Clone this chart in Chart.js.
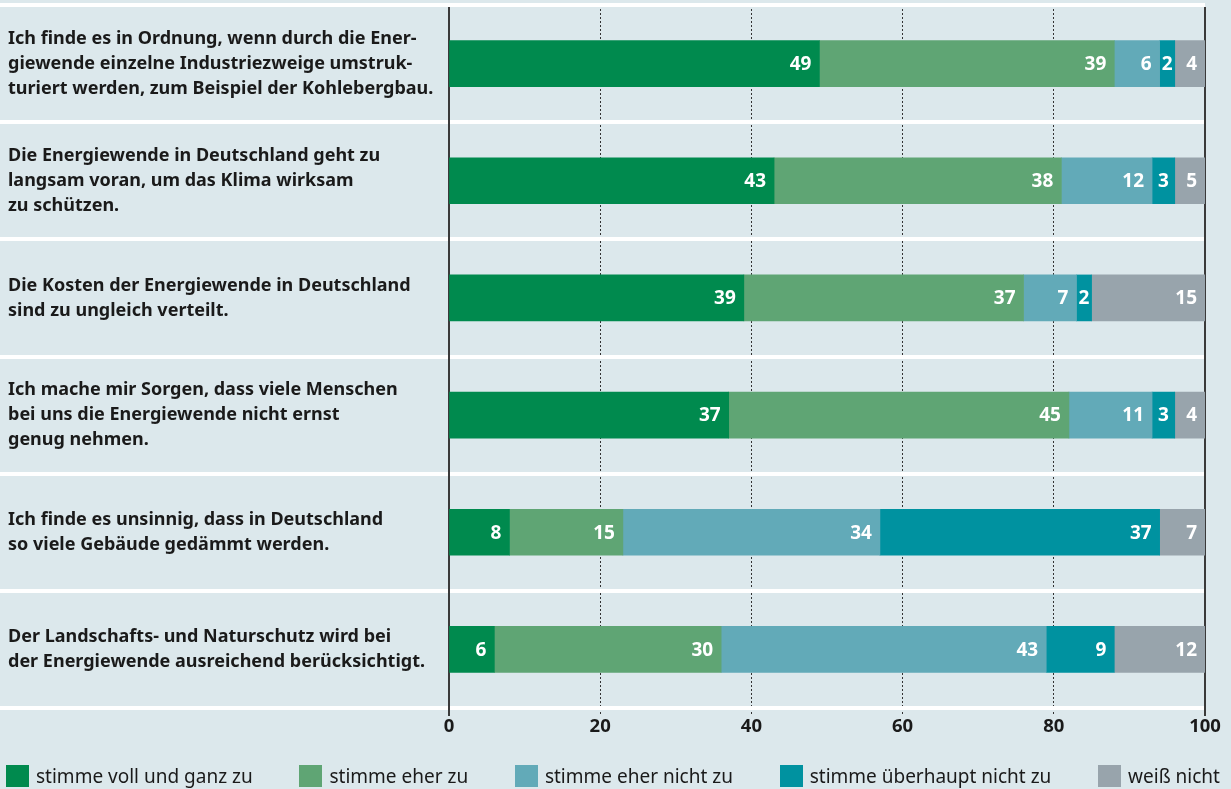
<!DOCTYPE html>
<html lang="de">
<head>
<meta charset="utf-8">
<title>Energiewende – Zustimmung</title>
<script src="https://cdn.jsdelivr.net/npm/chart.js@4"></script>
<style>
  html, body { margin: 0; padding: 0; background: #dce8ec; }
  #wrap { position: relative; width: 1231px; height: 789px; }
  #chart { display: block; }
  #legend {
    position: absolute; left: 0; top: 765px; width: 1231px; box-sizing: border-box;
    margin: 0; padding: 0 11px 0 6px; list-style: none;
    display: flex; justify-content: space-between;
  }
  #legend li {
    display: flex; align-items: center; height: 22px;
    font: 19px 'Noto Sans', sans-serif; color: #1a1a1a; white-space: nowrap;
  }
  #legend .box { display: inline-block; width: 23px; height: 22px; margin-right: 7px; }
</style>
</head>
<body>
<div id="wrap">
  <canvas id="chart" width="1231" height="789"></canvas>
  <ul id="legend"></ul>
</div>
<script>
// Aussagen (Kategorien)
const statements = [
    ["Ich finde es in Ordnung, wenn durch die Ener-", "giewende einzelne Industriezweige umstruk-", "turiert werden, zum Beispiel der Kohlebergbau."],
    ["Die Energiewende in Deutschland geht zu", "langsam voran, um das Klima wirksam", "zu schützen."],
    ["Die Kosten der Energiewende in Deutschland", "sind zu ungleich verteilt."],
    ["Ich mache mir Sorgen, dass viele Menschen", "bei uns die Energiewende nicht ernst", "genug nehmen."],
    ["Ich finde es unsinnig, dass in Deutschland", "so viele Gebäude gedämmt werden."],
    ["Der Landschafts- und Naturschutz wird bei", "der Energiewende ausreichend berücksichtigt."],
];

// Antworten in Prozent
const vollUndGanz = [49, 43, 39, 37, 8, 6];
const eherZu = [39, 38, 37, 45, 15, 30];
const eherNicht = [6, 12, 7, 11, 34, 43];
const ueberhauptNicht = [2, 3, 2, 3, 37, 9];
const weissNicht = [4, 5, 15, 4, 7, 12];

const xTicks = [0, 20, 40, 60, 80, 100];

const FONT = "'Noto Sans', sans-serif";
const TEXT = '#1a1a1a';

const getData = () => {
    return {
        labels: statements,
        datasets: [
            { label: "stimme voll und ganz zu", data: vollUndGanz, backgroundColor: '#008a4e' },
            { label: "stimme eher zu", data: eherZu, backgroundColor: '#5fa574' },
            { label: "stimme eher nicht zu", data: eherNicht, backgroundColor: '#62aab8' },
            { label: "stimme überhaupt nicht zu", data: ueberhauptNicht, backgroundColor: '#0092a0' },
            { label: "weiß nicht", data: weissNicht, backgroundColor: '#98a4ac' },
        ].map(ds => ({ ...ds, borderWidth: 0, barThickness: 46 })),
    };
};

// durchgezogene Linien bei 0 und 100
const edgeLines = {
    id: 'edgeLines',
    beforeDatasetsDraw(chart) {
        const { ctx, chartArea, scales: { x } } = chart;
        ctx.save();
        ctx.strokeStyle = '#3a3a3a';
        ctx.lineWidth = 2;
        [xTicks[0], xTicks[xTicks.length - 1]].forEach(v => {
            const px = Math.round(x.getPixelForValue(v));
            ctx.beginPath();
            ctx.moveTo(px, chartArea.top + 2);
            ctx.lineTo(px, chartArea.bottom + 8);
            ctx.stroke();
        });
        ctx.restore();
    }
};

// Werte in die Balken schreiben
const barValues = {
    id: 'barValues',
    afterDatasetsDraw(chart) {
        const { ctx, chartArea } = chart;
        ctx.save();
        ctx.font = "bold 19px " + FONT;
        ctx.fillStyle = '#ffffff';
        ctx.textBaseline = 'middle';
        chart.data.datasets.forEach((ds, i) => {
            chart.getDatasetMeta(i).data.forEach((bar, j) => {
                const text = String(ds.data[j]);
                const right = Math.min(bar.x, chartArea.right);
                const left = bar.base;
                const w = ctx.measureText(text).width;
                if (right - left >= w + 14) {
                    ctx.textAlign = 'right';
                    ctx.fillText(text, right - 8, bar.y + 1);
                } else {
                    ctx.textAlign = 'center';
                    ctx.fillText(text, (left + right) / 2, bar.y + 1);
                }
            });
        });
        ctx.restore();
    }
};

const getConfig = (data) => {
    return {
        type: "bar",
        data: data,
        plugins: [edgeLines, barValues],
        options: {
            indexAxis: 'y',
            responsive: false,
            animation: false,
            layout: { padding: { top: 5, left: 8, right: 26, bottom: 41 } },
            scales: {
                x: {
                    stacked: true,
                    min: 0,
                    max: 100,
                    afterBuildTicks: (scale) => {
                        scale.ticks = xTicks.map(v => ({ value: v }));
                    },
                    afterFit: (scale) => { scale.height = 40; },
                    ticks: {
                        font: { family: FONT, size: 18.5, weight: 'bold' },
                        color: TEXT,
                        padding: 0,
                    },
                    grid: {
                        color: (c) => (c.tick && (c.tick.value === 0 || c.tick.value === 100)) ? 'rgba(0,0,0,0)' : '#333333',
                        lineWidth: 1,
                        tickLength: 8,
                        tickBorderDash: [2, 2],
                    },
                    border: { display: false, dash: [2, 2] },
                },
                y: {
                    stacked: true,
                    afterFit: (scale) => {
                        scale.width = 441;
                        scale.paddingTop = 0;
                        scale.paddingBottom = 0;
                    },
                    ticks: {
                        crossAlign: 'far',
                        autoSkip: false,
                        padding: 0,
                        font: { family: FONT, size: 18, weight: 'bold', lineHeight: 1.39 },
                        color: TEXT,
                    },
                    grid: {
                        color: '#ffffff',
                        lineWidth: 4,
                        tickLength: 449,
                    },
                    border: { display: false },
                },
            },
            plugins: {
                legend: { display: false },
                title: { display: false },
                tooltip: { enabled: false },
            },
        },
    };
};

// Legende als HTML aus den Datensätzen des Diagramms
const buildLegend = (chart) => {
    const ul = document.getElementById("legend");
    chart.data.datasets.forEach(ds => {
        const li = document.createElement("li");
        const box = document.createElement("span");
        box.className = "box";
        box.style.background = ds.backgroundColor;
        const txt = document.createElement("span");
        txt.textContent = ds.label;
        li.append(box, txt);
        ul.appendChild(li);
    });
};

const createChart = () => {
    const ctx = document.getElementById("chart").getContext("2d");
    const chart = new Chart(ctx, getConfig(getData()));
    buildLegend(chart);
};

createChart();
</script>
</body>
</html>
